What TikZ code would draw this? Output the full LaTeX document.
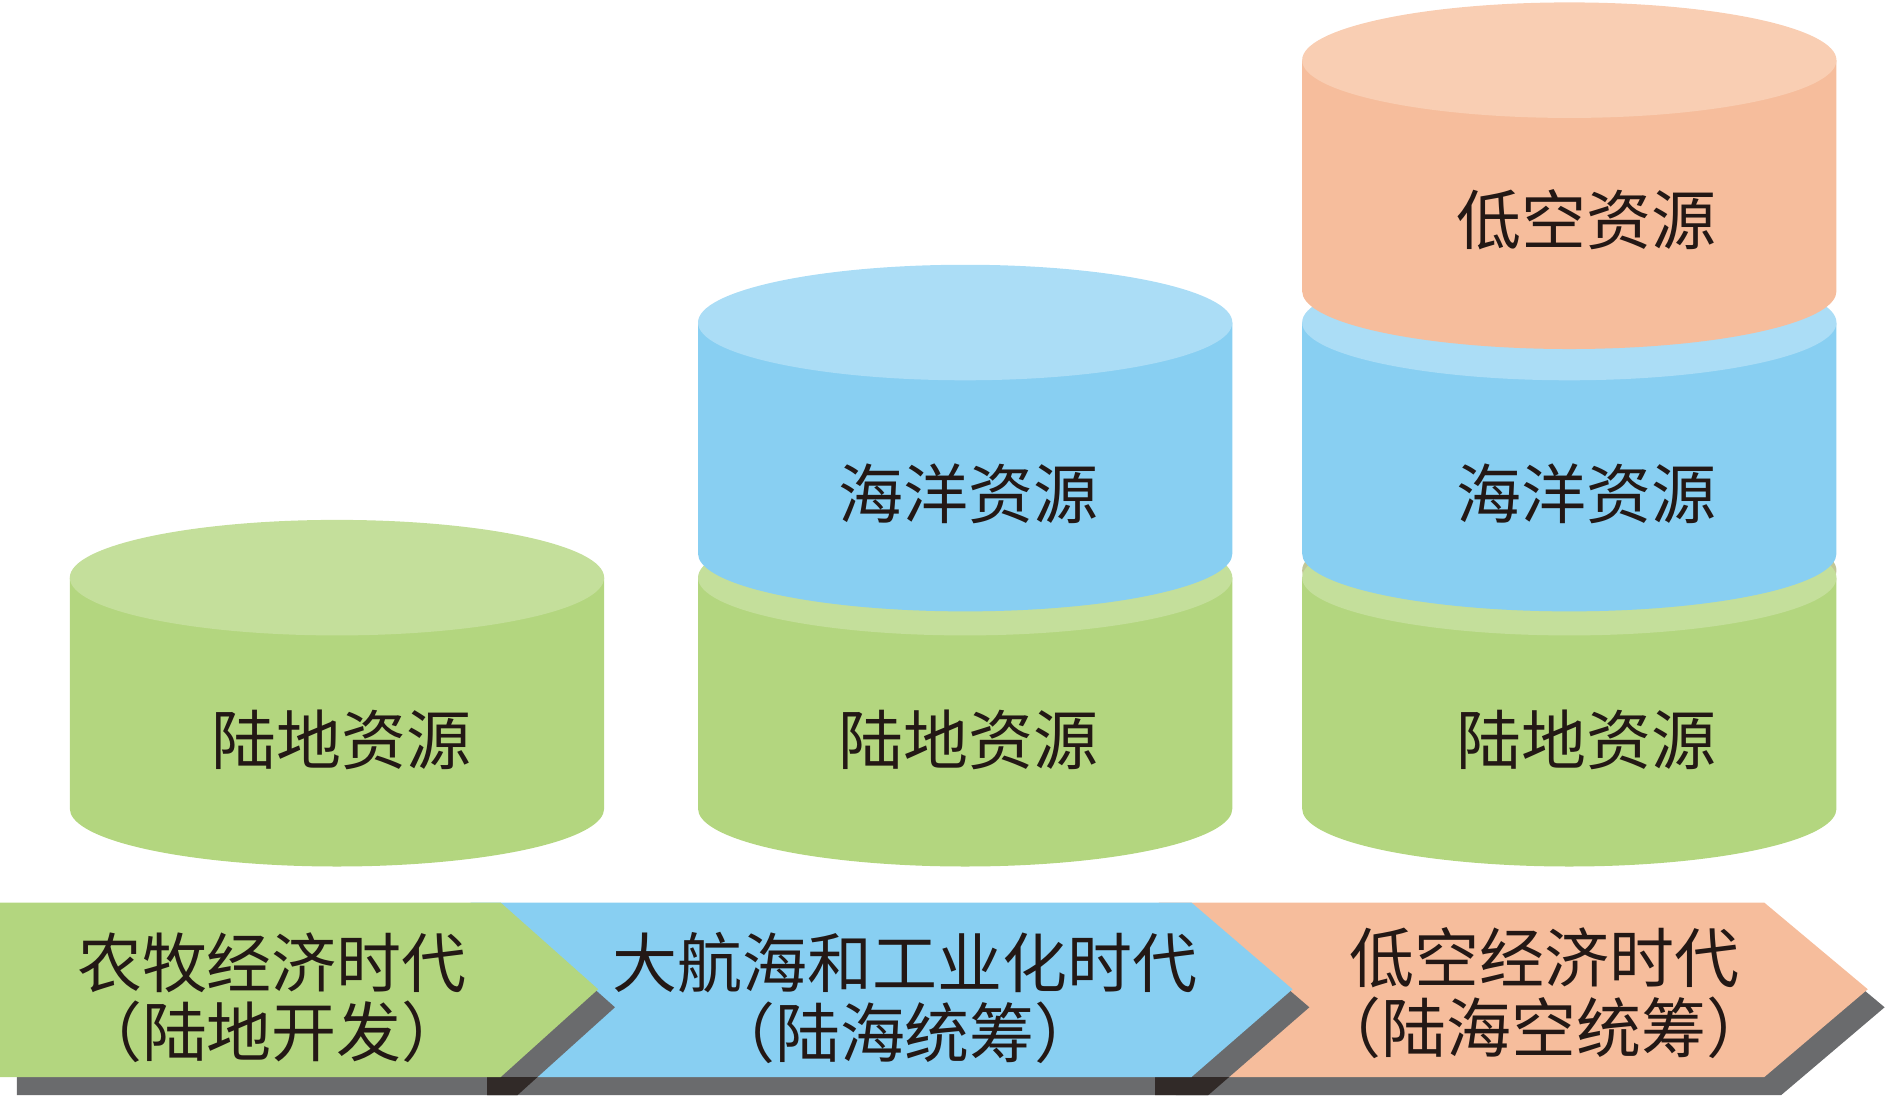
\documentclass[tikz,border=0pt]{standalone}
\usepackage{fontspec}
\newfontfamily\cjk{Noto Sans CJK SC}
\definecolor{gbody}{HTML}{B3D67F}
\definecolor{gtop}{HTML}{C4DF9B}
\definecolor{gmix}{HTML}{C2C796}
\definecolor{bbody}{HTML}{88CFF2}
\definecolor{btop}{HTML}{ABDDF6}
\definecolor{obody}{HTML}{F6BD9C}
\definecolor{otop}{HTML}{F9CEB3}
\definecolor{txt}{HTML}{231815}
\definecolor{shadc}{HTML}{6A6B6D}
\definecolor{shaddark}{HTML}{312A28}
\newcommand\cylseg[5]{%
  \fill[#4] (#1-222,#2) -- (#1-222,#3-8) arc[start angle=180,end angle=200,x radius=111pt,y radius=24pt]
     arc[start angle=200,end angle=340,x radius=111pt,y radius=24pt]
     arc[start angle=340,end angle=360,x radius=111pt,y radius=24pt] -- (#1+222,#2) -- cycle;
  \fill[#5] (#1,#2) ellipse[x radius=111pt,y radius=24pt];}
\begin{document}
\begin{tikzpicture}[x=0.5pt,y=-0.5pt,
  lbl/.style={font=\cjk\fontsize{27pt}{29pt}\selectfont,text=txt,inner sep=0pt},
  albl/.style={font=\cjk\fontsize{27pt}{29pt}\selectfont,text=txt,inner sep=0pt,align=center},
  shad/.style={fill=shadc}]
\useasboundingbox (0,0) rectangle (1568,910);
% cylinder 1
\cylseg{280}{480}{680}{gbody}{gtop}
% cylinder 2
\cylseg{802}{480}{680}{gbody}{gtop}
\cylseg{802}{268}{468}{bbody}{btop}
% cylinder 3
\fill[gmix] (1304,474) ellipse[x radius=111pt,y radius=24pt];
\cylseg{1304}{480}{680}{gbody}{gtop}
\cylseg{1304}{268}{468}{bbody}{btop}
\cylseg{1304}{50}{250}{obody}{otop}
% labels on cylinders
\node[lbl] (l1) at (284,615) {陆地资源};
\node[lbl] (o2) at (805,410) {海洋资源};
\node[lbl] (l2) at (805,615) {陆地资源};
\node[lbl] (a3) at (1318,183) {低空资源};
\node[lbl] (o3) at (1318,410) {海洋资源};
\node[lbl] (l3) at (1318,615) {陆地资源};
% bottom arrows
\fill[shad,shift={(14,15)}] (963,750) -- (1466,750) -- (1552,822) -- (1466,895) -- (963,895) -- cycle;
\fill[obody] (963,750) -- (1466,750) -- (1552,822) -- (1466,895) -- (963,895) -- cycle;
\fill[shad,shift={(14,15)}] (391,750) -- (990,750) -- (1074,822) -- (990,895) -- (391,895) -- cycle;
\begin{scope}
  \clip[shift={(14,15)}] (391,750) -- (990,750) -- (1074,822) -- (990,895) -- (391,895) -- cycle;
  \fill[shaddark] (960,895) rectangle (1120,911);
\end{scope}
\fill[bbody] (391,750) -- (990,750) -- (1074,822) -- (990,895) -- (391,895) -- cycle;
\fill[shad,shift={(14,15)}] (0,750) -- (416,750) -- (497,822) -- (416,895) -- (0,895) -- cycle;
\begin{scope}
  \clip[shift={(14,15)}] (0,750) -- (416,750) -- (497,822) -- (416,895) -- (0,895) -- cycle;
  \fill[shaddark] (405,895) rectangle (560,911);
\end{scope}
\fill[gbody] (0,750) -- (416,750) -- (497,822) -- (416,895) -- (0,895) -- cycle;
\node[albl] (e1) at (226,829) {农牧经济时代\\（陆地开发）};
\node[albl] (e2) at (752,829) {大航海和工业化时代\\（陆海统筹）};
\node[albl] (e3) at (1283,825) {低空经济时代\\（陆海空统筹）};
\end{tikzpicture}
\end{document}
